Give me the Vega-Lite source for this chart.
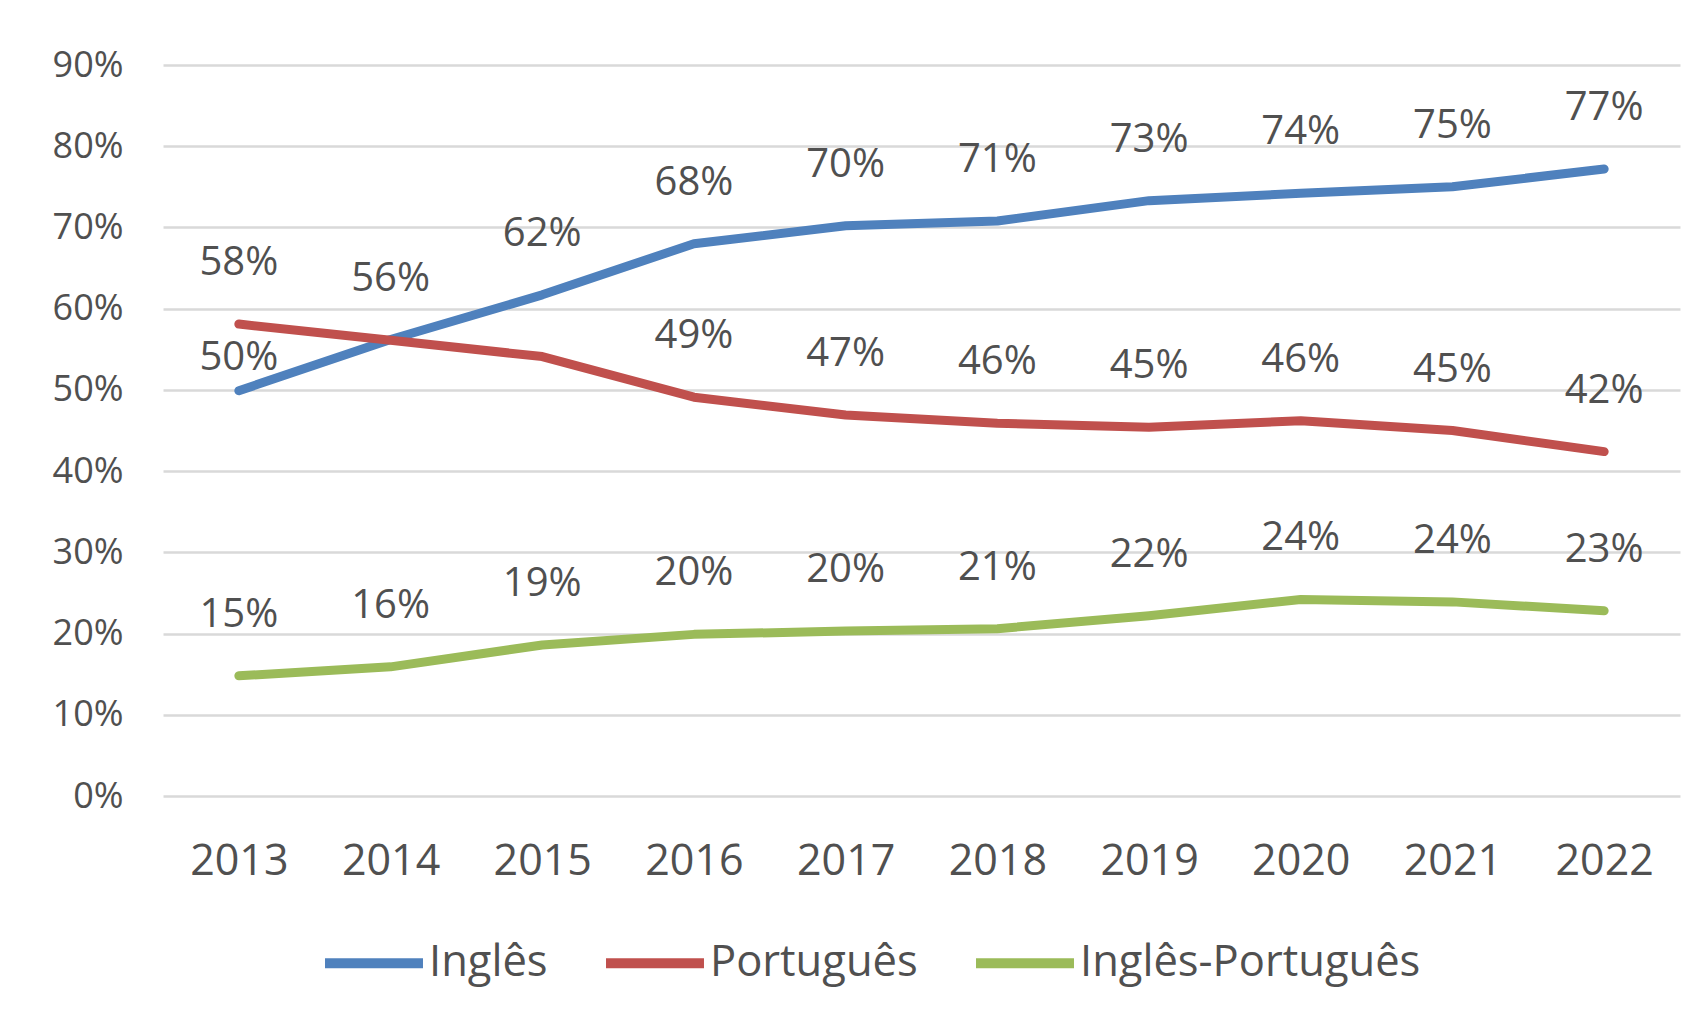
{
  "$schema": "https://vega.github.io/schema/vega-lite/v6.json",
  "width": 1517,
  "height": 731,
  "autosize": {"type": "none"},
  "padding": {"left": 163, "top": 65, "right": 21, "bottom": 235},
  "background": "white",
  "config": {
    "font": "Open Sans",
    "view": {"stroke": null},
    "axis": {"labelColor": "#505050", "title": null, "ticks": false, "domain": false}
  },
  "data": {
    "values": [
      {"year": "2013", "series": "Inglês", "value": 0.499},
      {"year": "2014", "series": "Inglês", "value": 0.562},
      {"year": "2015", "series": "Inglês", "value": 0.617},
      {"year": "2016", "series": "Inglês", "value": 0.680},
      {"year": "2017", "series": "Inglês", "value": 0.702},
      {"year": "2018", "series": "Inglês", "value": 0.708},
      {"year": "2019", "series": "Inglês", "value": 0.733},
      {"year": "2020", "series": "Inglês", "value": 0.742},
      {"year": "2021", "series": "Inglês", "value": 0.750},
      {"year": "2022", "series": "Inglês", "value": 0.772},
      {"year": "2013", "series": "Português", "value": 0.581},
      {"year": "2014", "series": "Português", "value": 0.561},
      {"year": "2015", "series": "Português", "value": 0.541},
      {"year": "2016", "series": "Português", "value": 0.491},
      {"year": "2017", "series": "Português", "value": 0.469},
      {"year": "2018", "series": "Português", "value": 0.459},
      {"year": "2019", "series": "Português", "value": 0.454},
      {"year": "2020", "series": "Português", "value": 0.462},
      {"year": "2021", "series": "Português", "value": 0.450},
      {"year": "2022", "series": "Português", "value": 0.424},
      {"year": "2013", "series": "Inglês-Português", "value": 0.148},
      {"year": "2014", "series": "Inglês-Português", "value": 0.159},
      {"year": "2015", "series": "Inglês-Português", "value": 0.186},
      {"year": "2016", "series": "Inglês-Português", "value": 0.199},
      {"year": "2017", "series": "Inglês-Português", "value": 0.203},
      {"year": "2018", "series": "Inglês-Português", "value": 0.206},
      {"year": "2019", "series": "Inglês-Português", "value": 0.222},
      {"year": "2020", "series": "Inglês-Português", "value": 0.242},
      {"year": "2021", "series": "Inglês-Português", "value": 0.239},
      {"year": "2022", "series": "Inglês-Português", "value": 0.228}
    ]
  },
  "encoding": {
    "x": {
      "field": "year",
      "type": "ordinal",
      "scale": {"type": "point", "padding": 0.5},
      "axis": {"labelFontSize": 43, "labelPadding": 44, "labelAngle": 0, "grid": false}
    },
    "y": {
      "field": "value",
      "type": "quantitative",
      "scale": {"domain": [0, 0.9], "nice": false},
      "axis": {
        "values": [0, 0.1, 0.2, 0.3, 0.4, 0.5, 0.6, 0.7, 0.8, 0.9],
        "format": ".0%",
        "labelFontSize": 36,
        "labelPadding": 40,
        "grid": true,
        "gridColor": "#D9D9D9",
        "gridWidth": 2.5
      }
    }
  },
  "layer": [
    {
      "mark": {"type": "line", "strokeWidth": 9, "strokeCap": "round", "strokeJoin": "round"},
      "encoding": {
        "color": {
          "field": "series",
          "type": "nominal",
          "scale": {"domain": ["Inglês", "Português", "Inglês-Português"], "range": ["#4F81BD", "#C0504D", "#9BBB59"]},
          "legend": {
            "orient": "none",
            "legendX": 157,
            "legendY": 844,
            "direction": "horizontal",
            "title": null,
            "padding": 0,
            "symbolType": "stroke",
            "symbolSize": 9600,
            "symbolStrokeWidth": 10,
            "labelFontSize": 43.5,
            "labelColor": "#505050",
            "labelOffset": 1,
            "columnPadding": 38,
            "labelLimit": 600
          }
        }
      }
    },
    {
      "transform": [
        {"filter": "!(datum.series == 'Português' && (datum.year == '2014' || datum.year == '2015')) && !(datum.series == 'Inglês' && datum.year == '2013')"}
      ],
      "mark": {"type": "text", "fontSize": 40, "dy": -61, "color": "#505050"},
      "encoding": {"text": {"field": "value", "type": "quantitative", "format": ".0%"}}
    },
    {
      "transform": [
        {"filter": "datum.series == 'Inglês' && datum.year == '2013'"}
      ],
      "mark": {"type": "text", "fontSize": 40, "dy": -33, "color": "#505050"},
      "encoding": {"text": {"field": "value", "type": "quantitative", "format": ".0%"}}
    }
  ]
}
